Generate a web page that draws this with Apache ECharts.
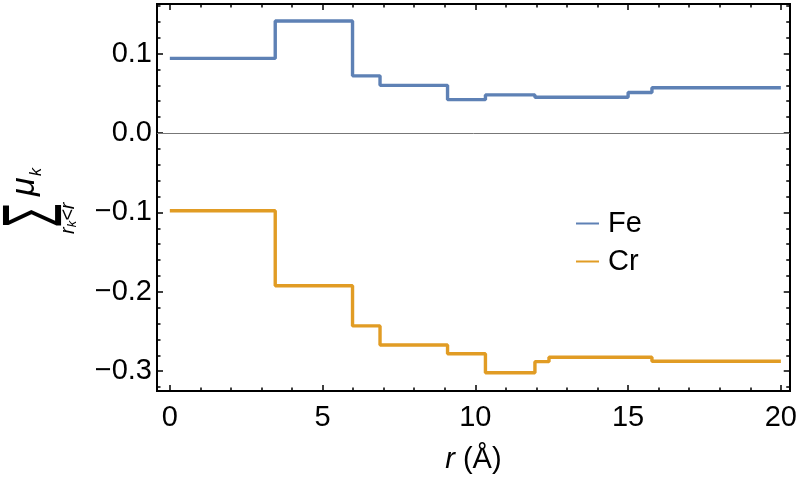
<!DOCTYPE html>
<html lang="en">

<head>
    <meta charset="UTF-8">
    <title>Chart</title>
    <script type="text/javascript" src="https://cdn.jsdelivr.net/npm/echarts@6/dist/echarts.min.js"></script>
    <style>
        html, body { margin: 0; padding: 0; background: #fff; }
    </style>
</head>

<body>
    <div id="main" style="width:800px;height:479px;"></div>
</body>
<script type="text/javascript">

    // step edges in r (Å) and the value held on each interval
    var rEdges = [0, 3.45, 5.98, 6.88, 9.09, 10.33, 11.95, 12.41, 15.0, 15.78, 20];
    var feValues = [0.094, 0.141, 0.072, 0.060, 0.042, 0.048, 0.045, 0.045, 0.051, 0.057];
    var crValues = [-0.098, -0.1925, -0.243, -0.267, -0.278, -0.302, -0.288, -0.2825, -0.2825, -0.2875];

    var xMajor = [0, 5, 10, 15, 20];
    var xMinor = [0, 1, 2, 3, 4, 5, 6, 7, 8, 9, 10, 11, 12, 13, 14, 15, 16, 17, 18, 19, 20];
    var yMajor = [-0.3, -0.2, -0.1, 0, 0.1];
    var yMinor = [-0.32, -0.30, -0.28, -0.26, -0.24, -0.22, -0.20, -0.18, -0.16, -0.14, -0.12, -0.10,
        -0.08, -0.06, -0.04, -0.02, 0, 0.02, 0.04, 0.06, 0.08, 0.10, 0.12, 0.14, 0.16];

    var FONT = 'Liberation Sans';
    var FS = 29;

    function stepData(values) {
        var d = [];
        for (var i = 0; i < values.length; i++) {
            d.push([rEdges[i], values[i]]);
        }
        d.push([rEdges[rEdges.length - 1], values[values.length - 1]]);
        return d;
    }

    function yFmt(v) {
        if (Math.abs(v) < 1e-9) return '0.0';
        return (v < 0 ? '\u2212' : '') + Math.abs(v).toFixed(1);
    }

    var xRange = { min: -0.42, max: 20.29 };
    var yRange = { min: -0.325, max: 0.1625 };

    function xAx(pos, ticks, len, labels) {
        return {
            type: 'value', position: pos, min: xRange.min, max: xRange.max,
            axisLine: { show: true, onZero: false, lineStyle: { color: '#000', width: 2 } },
            axisTick: { show: true, inside: true, length: len, customValues: ticks, lineStyle: { color: '#000', width: 1.5 } },
            axisLabel: labels ? { show: true, customValues: xMajor, color: '#000', fontSize: FS, fontFamily: FONT, margin: 12 } : { show: false },
            splitLine: { show: false }
        };
    }

    function yAx(pos, ticks, len, labels) {
        return {
            type: 'value', position: pos, min: yRange.min, max: yRange.max,
            axisLine: { show: true, onZero: false, lineStyle: { color: '#000', width: 2 } },
            axisTick: { show: true, inside: true, length: len, customValues: ticks, lineStyle: { color: '#000', width: 1.5 } },
            axisLabel: labels ? { show: true, customValues: yMajor, formatter: yFmt, color: '#000', fontSize: FS, fontFamily: FONT, margin: 5 } : { show: false },
            splitLine: { show: false }
        };
    }

    var xAxes = [xAx('bottom', xMajor, 6, true), xAx('bottom', xMinor, 3.5, false), xAx('top', xMajor, 6, false), xAx('top', xMinor, 3.5, false)];
    xAxes[0].name = '{i|r} (\u00c5)';
    xAxes[0].nameLocation = 'middle';
    xAxes[0].nameGap = 54;
    xAxes[0].nameTextStyle = {
        color: '#000', fontSize: FS, fontFamily: FONT,
        rich: { i: { fontStyle: 'italic', fontSize: FS, fontFamily: FONT, color: '#000' } }
    };

    var chart = echarts.init(document.getElementById('main'));

    chart.setOption({
        animation: false,
        grid: { left: 157, right: 7, top: 4, bottom: 85 },
        legend: {
            orient: 'vertical', left: 571, top: 204,
            itemWidth: 23, itemHeight: 2, itemGap: 9,
            icon: 'rect',
            textStyle: { color: '#000', fontSize: FS, fontFamily: FONT, padding: [0, 0, 0, 4] },
            data: ['Fe', 'Cr']
        },
        xAxis: xAxes,
        yAxis: [yAx('left', yMajor, 6, true), yAx('left', yMinor, 3.5, false), yAx('right', yMajor, 6, false), yAx('right', yMinor, 3.5, false)],
        graphic: [{
            type: 'group', x: 0, y: 250, rotation: Math.PI / 2,
            children: [
                { type: 'text', x: 24, y: 32, scaleX: 0.5, style: { text: '\u2211', fontSize: 64, fontFamily: '"DejaVu Sans ExtraLight", "DejaVu Sans"', fill: '#000', align: 'left', verticalAlign: 'middle' } },
                { type: 'text', x: 54, y: 25, style: { text: '\u03bc', fontSize: 34, fontStyle: 'italic', fontFamily: FONT, fill: '#000', align: 'left', verticalAlign: 'middle' } },
                { type: 'text', x: 74, y: 37, style: { text: 'k', fontSize: 16, fontStyle: 'italic', fontFamily: FONT, fill: '#000', align: 'left', verticalAlign: 'middle' } },
                { type: 'text', x: 16, y: 68, style: { text: '{a|r}{b|k}{a|<r}', fontSize: 20, fontStyle: 'italic', fontFamily: FONT, fill: '#000', align: 'left', verticalAlign: 'middle',
                    rich: { a: { fontSize: 20, fontStyle: 'italic', fontFamily: FONT }, b: { fontSize: 13, fontStyle: 'italic', fontFamily: FONT, padding: [8, 0, 0, 0] } } } }
            ]
        }],
        series: [
            {
                name: 'Fe', type: 'line', step: 'end', data: stepData(feValues),
                showSymbol: false, color: '#5E81B5',
                lineStyle: { width: 3.4, color: '#5E81B5' },
                markLine: {
                    silent: true, symbol: 'none', label: { show: false },
                    lineStyle: { color: '#777', width: 1, type: 'solid' },
                    data: [{ yAxis: 0 }]
                }
            },
            {
                name: 'Cr', type: 'line', step: 'end', data: stepData(crValues),
                showSymbol: false, color: '#E19C24',
                lineStyle: { width: 3.4, color: '#E19C24' }
            }
        ]
    });
</script>

</html>
